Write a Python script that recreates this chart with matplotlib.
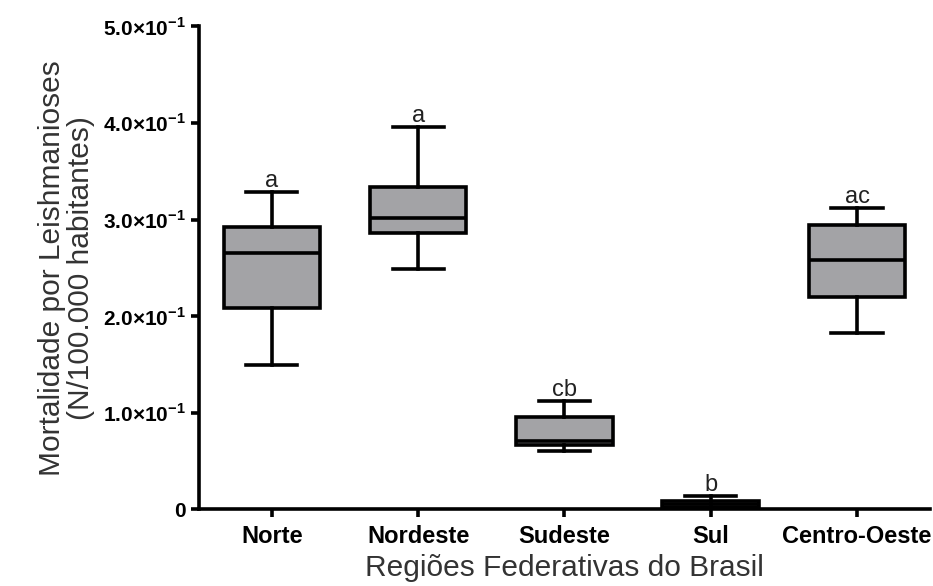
import matplotlib
matplotlib.use("Agg")
import matplotlib.pyplot as plt
from matplotlib.ticker import FuncFormatter, MultipleLocator

plt.rcParams['font.family'] = ['Liberation Sans', 'DejaVu Sans']
plt.rcParams['mathtext.fontset'] = 'custom'
plt.rcParams['mathtext.rm'] = 'Liberation Sans:bold'
plt.rcParams['mathtext.bf'] = 'Liberation Sans:bold'

# dados (mortalidade por 100.000 hab.)
regioes = ['Norte', 'Nordeste', 'Sudeste', 'Sul', 'Centro-Oeste']
minimo = [0.149, 0.249, 0.060, 0.000, 0.182]
q1 = [0.208, 0.286, 0.066, 0.002, 0.220]
mediana = [0.265, 0.302, 0.071, 0.005, 0.258]
q3 = [0.292, 0.334, 0.095, 0.009, 0.294]
maximo = [0.328, 0.396, 0.112, 0.014, 0.312]
letras = ['a', 'a', 'cb', 'b', 'ac']

stats = []
for i, nome in enumerate(regioes):
    stats.append({'label': nome, 'whislo': minimo[i], 'q1': q1[i], 'med': mediana[i],
                  'q3': q3[i], 'whishi': maximo[i], 'fliers': []})

fig = plt.figure(figsize=(9.33, 5.86), dpi=100)
ax = fig.add_axes([0.213, 0.131, 0.784, 0.824])

lw = 2.6
ax.bxp(stats, positions=range(1, 6), widths=0.66, capwidths=0.35, patch_artist=True,
       boxprops=dict(facecolor='#a3a3a6', edgecolor='black', linewidth=lw),
       medianprops=dict(color='black', linewidth=lw),
       whiskerprops=dict(color='black', linewidth=lw),
       capprops=dict(color='black', linewidth=lw))

for i, letra in enumerate(letras):
    ax.annotate(letra, (i + 1, maximo[i]), xytext=(0, 0), textcoords='offset points',
                ha='center', va='bottom', fontsize=17, color='#222222')

ax.set_xlim(0.5, 5.5)
ax.set_ylim(0, 0.5)
ax.yaxis.set_major_locator(MultipleLocator(0.1))


def fmt(v, pos):
    if abs(v) < 1e-9:
        return '0'
    return '%.1f×10$^{-1}$' % (v * 10)


ax.yaxis.set_major_formatter(FuncFormatter(fmt))
for lab in ax.get_yticklabels():
    lab.set_fontweight('bold')
ax.set_xticks(range(1, 6))
ax.set_xticklabels(regioes, fontweight='bold', fontsize=17)
ax.tick_params(axis='y', labelsize=15, width=lw, length=6, pad=3)
ax.tick_params(axis='x', width=lw, length=6, pad=5)

for s in ['top', 'right']:
    ax.spines[s].set_visible(False)
for s in ['left', 'bottom']:
    ax.spines[s].set_linewidth(lw)

ax.set_xlabel('Regiões Federativas do Brasil', fontsize=21.5, color='#333333', labelpad=5)
ax.set_ylabel('Mortalidade por Leishmanioses\n(N/100.000 habitantes)', fontsize=21.5,
              color='#333333', labelpad=6, linespacing=1.05)

fig.savefig('out.png', dpi=100)
